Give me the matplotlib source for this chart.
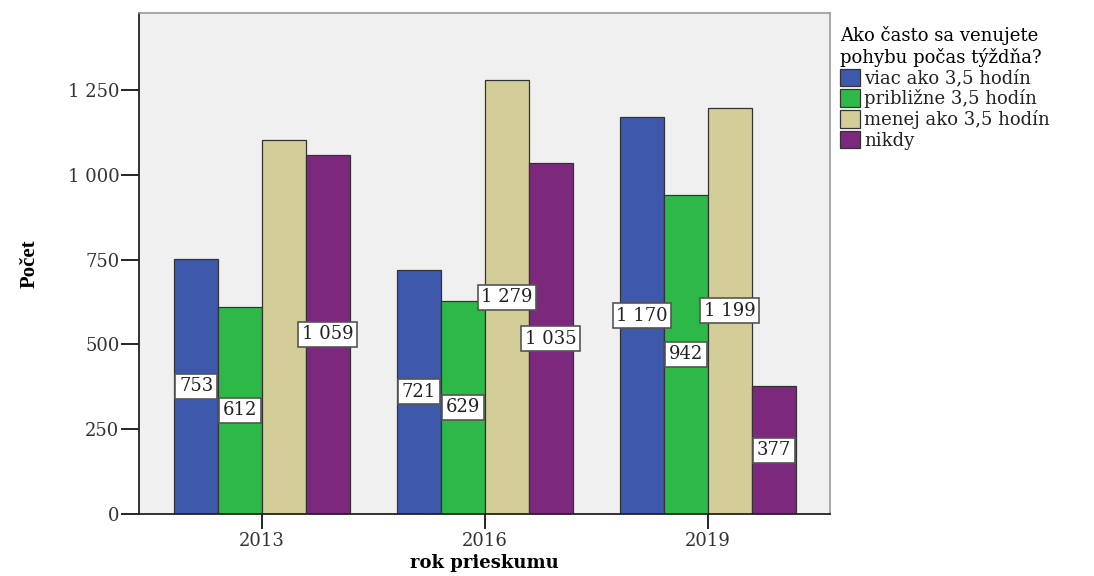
import numpy as np
import matplotlib.pyplot as plt

years = ["2013", "2016", "2019"]
categories = ["viac ako 3,5 hodín", "približne 3,5 hodín", "menej ako 3,5 hodín", "nikdy"]
viac = [753, 721, 1170]
priblizne = [612, 629, 942]
menej = [1104, 1279, 1199]
nikdy = [1059, 1035, 377]
# SPSS did not print the label for 2013 / menej
shown = [[True, True, True], [True, True, True], [False, True, True], [True, True, True]]

series = [viac, priblizne, menej, nikdy]
colors = ["#3e58ac", "#2eb848", "#d3ce97", "#7b287d"]

def fmt(v):
    return f"{v:,}".replace(",", " ")

fig = plt.figure(figsize=(10.94, 5.76), dpi=100)
ax = fig.add_axes([0.127, 0.1076, 0.6316, 0.8694])
ax.set_facecolor("#f0f0f0")

x = np.arange(len(years))
w = 0.197
handles = []
for i, vals in enumerate(series):
    pos = x + (i - 1.5) * w
    b = ax.bar(pos, vals, w, color=colors[i], edgecolor="#333333", linewidth=0.9, label=categories[i], zorder=2)
    handles.append(b)
    for j, v in enumerate(vals):
        if shown[i][j]:
            ax.text(pos[j], v / 2, fmt(v), ha="center", va="center", fontsize=13,
                    family="DejaVu Serif", color="#222222", zorder=5,
                    bbox=dict(boxstyle="square,pad=0.2", fc="white", ec="#555555", lw=1.2))

ax.set_xlim(-0.552, 2.547)
ax.set_ylim(0, 1477)
ax.set_xticks(x)
ax.set_xticklabels(years, family="DejaVu Serif", fontsize=13, color="#333333")
ax.set_yticks([0, 250, 500, 750, 1000, 1250])
ax.set_yticklabels([fmt(t) for t in [0, 250, 500, 750, 1000, 1250]], family="DejaVu Serif", fontsize=13, color="#333333")
ax.tick_params(axis="y", length=13, width=1.2, direction="out", pad=1)
ax.tick_params(axis="x", length=11, width=1.2, direction="out", pad=2)

for s in ["left", "bottom"]:
    ax.spines[s].set_color("#222222")
    ax.spines[s].set_linewidth(1.3)
for s in ["top", "right"]:
    ax.spines[s].set_color("#999999")
    ax.spines[s].set_linewidth(1.2)

ax.set_xlabel("rok prieskumu", family="DejaVu Serif", fontweight="bold", fontsize=13, labelpad=3)
ax.set_ylabel("Počet", family="Liberation Serif", fontweight="bold", fontsize=15, labelpad=20)

leg = ax.legend(handles=handles, title="Ako často sa venujete\npohybu počas týždňa?",
                loc="upper left", bbox_to_anchor=(0.997, 1.0), frameon=False,
                prop={"family": "DejaVu Serif", "size": 13},
                title_fontproperties={"family": "DejaVu Serif", "size": 13},
                handlelength=1.1, handleheight=1.1, handletextpad=0.2,
                labelspacing=0.1, borderaxespad=0.3, alignment="left")
for t in leg.get_texts():
    t.set_color("#222222")

fig.savefig("out.png", dpi=100)
